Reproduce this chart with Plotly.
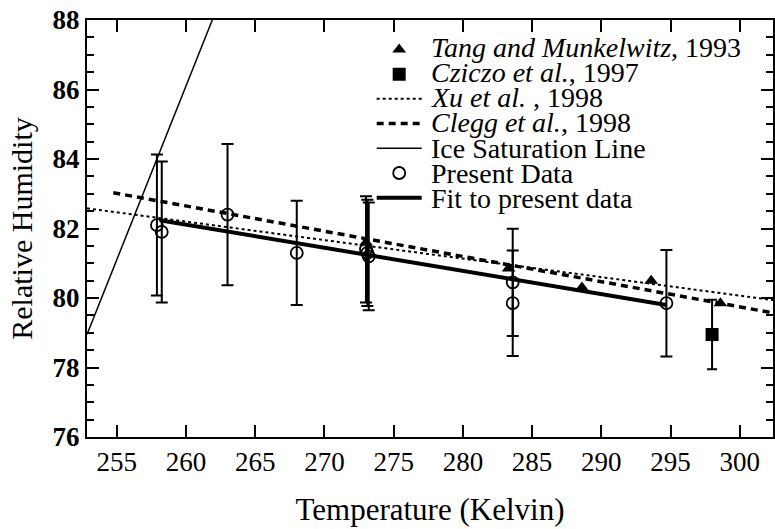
import plotly.graph_objects as go

# ---- data ----
present_T = [257.9, 258.25, 263.0, 268.0, 273.0, 273.1, 273.2, 283.6, 283.6, 294.7]
present_RH = [82.1, 81.9, 82.4, 81.3, 81.4, 81.3, 81.2, 80.45, 79.85, 79.85]
present_err = [2.03, 2.03, 2.03, 1.5, 1.53, 1.53, 1.55, 1.54, 1.52, 1.53]

tang_T = [273.0, 283.3, 288.6, 293.6, 298.6]
tang_RH = [81.6, 80.85, 80.3, 80.5, 79.85]

cziczo_T = [298.0]
cziczo_RH = [78.95]
cziczo_err = [1.0]

xu_T = [252.85, 302.4]
xu_RH = [82.58, 79.94]

clegg_T = [254.75, 302.4]
clegg_RH = [83.03, 79.57]

ice_T = [252.85, 261.9]
ice_RH = [78.95, 88.0]

fit_T = [258.1, 294.7]
fit_RH = [82.24, 79.8]

x_ticks = [255, 260, 265, 270, 275, 280, 285, 290, 295, 300]
y_ticks = [76, 78, 80, 82, 84, 86, 88]

legend_order = ["tang", "cziczo", "xu", "clegg", "ice", "present", "fit"]
labels = {
    "tang": "<i>Tang and Munkelwitz</i>, 1993",
    "cziczo": "<i>Cziczo et al.</i>, 1997",
    "xu": "<i>Xu et al.</i> , 1998",
    "clegg": "<i>Clegg et al.</i>, 1998",
    "ice": "Ice Saturation Line",
    "present": "Present Data",
    "fit": "Fit to present data",
}

FONT = "Liberation Serif"
LSIZE = 28
BLANK = "\u2009"


def rank(key):
    return legend_order.index(key) + 1


fig = go.Figure()

fig.add_trace(go.Scatter(x=ice_T, y=ice_RH, mode="lines", name=BLANK,
                         line=dict(color="black", width=1.5), legendrank=rank("ice")))
fig.add_trace(go.Scatter(x=xu_T, y=xu_RH, mode="lines", name=BLANK,
                         line=dict(color="black", width=2, dash="3px,3px"), legendrank=rank("xu")))
fig.add_trace(go.Scatter(x=clegg_T, y=clegg_RH, mode="lines", name=BLANK,
                         line=dict(color="black", width=3.5, dash="7px,5px"), legendrank=rank("clegg")))
fig.add_trace(go.Scatter(x=fit_T, y=fit_RH, mode="lines", name=BLANK,
                         line=dict(color="black", width=4), legendrank=rank("fit")))
fig.add_trace(go.Scatter(x=present_T, y=present_RH, mode="markers", name=BLANK,
                         marker=dict(symbol="circle-open", size=12, color="black",
                                     line=dict(width=1.8, color="black")),
                         error_y=dict(type="data", array=present_err, visible=True,
                                      color="black", thickness=2, width=6),
                         legendrank=rank("present")))
fig.add_trace(go.Scatter(x=tang_T, y=tang_RH, mode="markers", name=BLANK,
                         marker=dict(symbol="triangle-up", size=12, color="black"),
                         legendrank=rank("tang")))
fig.add_trace(go.Scatter(x=cziczo_T, y=cziczo_RH, mode="markers", name=BLANK,
                         marker=dict(symbol="square", size=13, color="black"),
                         error_y=dict(type="data", array=cziczo_err, visible=True,
                                      color="black", thickness=2, width=5),
                         legendrank=rank("cziczo")))

# legend texts (large serif text; rows are tighter than Plotly's legend allows)
row_y0 = 0.935
row_dy = 0.0605
annotations = []
for i, key in enumerate(legend_order):
    annotations.append(dict(
        text=labels[key], xref="paper", yref="paper",
        x=0.498, y=row_y0 - i * row_dy, xanchor="left", yanchor="middle",
        showarrow=False, font=dict(family=FONT, size=LSIZE, color="black"),
    ))

fig.update_layout(
    width=775, height=529,
    margin=dict(l=87, r=2, t=20, b=92),
    paper_bgcolor="white", plot_bgcolor="white",
    font=dict(family=FONT, color="black"),
    showlegend=True,
    legend=dict(x=0.415, y=0.971, xanchor="left", yanchor="top",
                bgcolor="rgba(0,0,0,0)", borderwidth=0,
                font=dict(family=FONT, size=16.7, color="black"),
                itemwidth=45, tracegroupgap=0),
    annotations=annotations,
)

fig.update_xaxes(
    range=[252.85, 302.4], tickvals=x_ticks, automargin=False,
    ticks="inside", ticklen=12, tickwidth=1.5, tickcolor="black",
    showline=True, linewidth=2, linecolor="black", mirror="ticks",
    showgrid=False, zeroline=False, ticklabeloverflow="allow",
    tickfont=dict(family=FONT, size=27, color="black"),
    title=dict(text="Temperature (Kelvin)", font=dict(family=FONT, size=31, color="black"),
               standoff=22),
)
fig.update_yaxes(
    range=[76, 88], tickvals=y_ticks, automargin=False,
    ticks="inside", ticklen=12, tickwidth=2, tickcolor="black",
    minor=dict(dtick=0.5, ticks="inside", ticklen=7, tickwidth=1.5, tickcolor="black"),
    showline=True, linewidth=2, linecolor="black", mirror="ticks",
    showgrid=False, zeroline=False, ticklabeloverflow="allow",
    tickfont=dict(family=FONT, size=27, color="black", weight="bold"),
    title=dict(text="Relative Humidity", font=dict(family=FONT, size=30, color="black"),
               standoff=11),
)

fig.write_html("out.html", config={"displayModeBar": False},
               post_script="document.body.style.margin='0px';")
